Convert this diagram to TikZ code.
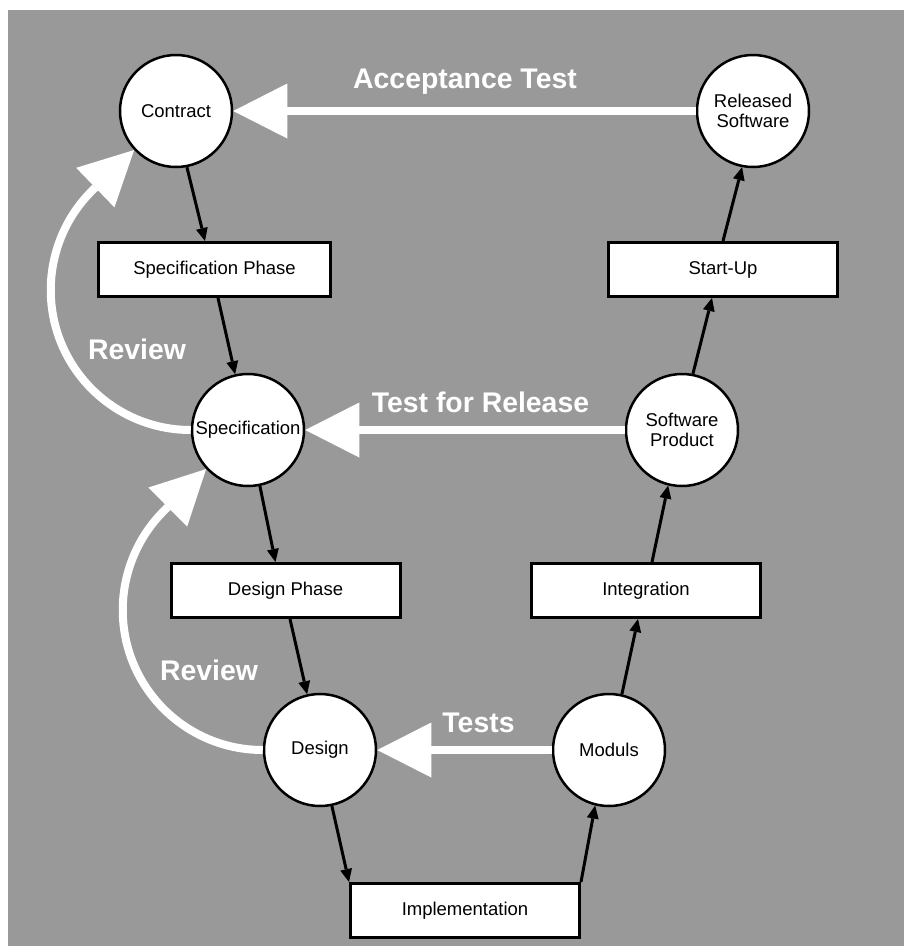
\documentclass[tikz,border=0pt]{standalone}
\usepackage{fontspec}
\setmainfont{Liberation Sans}
\usetikzlibrary{arrows.meta,calc}
\definecolor{panel}{RGB}{153,153,153}
\begin{document}
\begin{tikzpicture}[x=1pt,y=1pt,
  state/.style={circle, draw=black, fill=white, line width=2.5pt,
    minimum size=112pt, inner sep=0pt, align=center,
    font=\fontsize{18.5}{20}\selectfont},
  phase/.style={rectangle, draw=black, fill=white, line width=3pt,
    minimum width=229pt, minimum height=54pt, inner sep=0pt,
    font=\fontsize{18.5}{20}\selectfont},
  flow/.style={line width=3pt, -{Triangle[length=13pt,width=12pt,line width=0pt]}},
  feedback/.style={draw=white, line width=8pt,
    -{Triangle[length=54pt,width=55pt,line width=0pt]}},
  tag/.style={text=white, font=\fontsize{28.4}{30}\selectfont\bfseries,
    anchor=base, inner sep=0pt}
]
% page and grey panel
\useasboundingbox (0,0) rectangle (904,-946);
\fill[white] (0,0) rectangle (904,-946);
\fill[panel] (8,-10) rectangle (904,-946);

% states (circles)
\node[state] (contract) at (176,-111) {Contract};
\node[state] (released) at (753,-111) {Released\\Software};
\node[state] (spec)     at (248,-430) {Specification};
\node[state] (swprod)   at (682,-430) {Software\\Product};
\node[state] (design)   at (320,-750) {Design};
\node[state] (moduls)   at (609,-750) {Moduls};

% phases (boxes)
\node[phase, minimum width=232pt] (specphase) at (214.5,-269.5) {Specification Phase};
\node[phase] (startup)     at (723,-269.5)   {Start-Up};
\node[phase] (designphase) at (285.5,-590.5) {Design Phase};
\node[phase] (integration) at (646,-590.5)   {Integration};
\node[phase] (impl)        at (465,-910.5)   {Implementation};

% main flow
\draw[flow] (contract.-79) -- ($(specphase.north)+(-9.5,0)$);
\draw[flow] ($(specphase.south)+(3.5,0)$) -- (spec.103);
\draw[flow] (spec.-78) -- ($(designphase.north)+(-10,0)$);
\draw[flow] ($(designphase.south)+(4.5,0)$) -- (design.103);
\draw[flow] (design.-78) -- (impl.north west);
\draw[flow] (impl.north east) -- (moduls.256);
\draw[flow] (moduls.77) -- ($(integration.south)+(-8,0)$);
\draw[flow] ($(integration.north)+(6,0)$) -- (swprod.256);
\draw[flow] (swprod.79) -- ($(startup.south)+(-11,0)$);
\draw[flow] (startup.north) -- (released.259);

% test and review feedback
\draw[feedback] (released.west) -- (contract.east);
\draw[feedback] (swprod.west) -- (spec.east);
\draw[feedback] (moduls.west) -- (design.east);
\draw[feedback] (spec.west) arc[start angle=270, end angle=133.3, radius=140] -- (contract.223);
\draw[feedback] (design.west) arc[start angle=270, end angle=133.3, radius=140] -- (spec.223);

% labels
\node[tag] (lacc) at (465,-88)    {Acceptance Test};
\node[tag] (lrel) at (480.5,-412.7) {Test for Release};
\node[tag] (ltst) at (478.5,-732) {Tests};
\node[tag] (lrv1) at (137,-359)   {Review};
\node[tag] (lrv2) at (209,-680)   {Review};
\end{tikzpicture}
\end{document}
